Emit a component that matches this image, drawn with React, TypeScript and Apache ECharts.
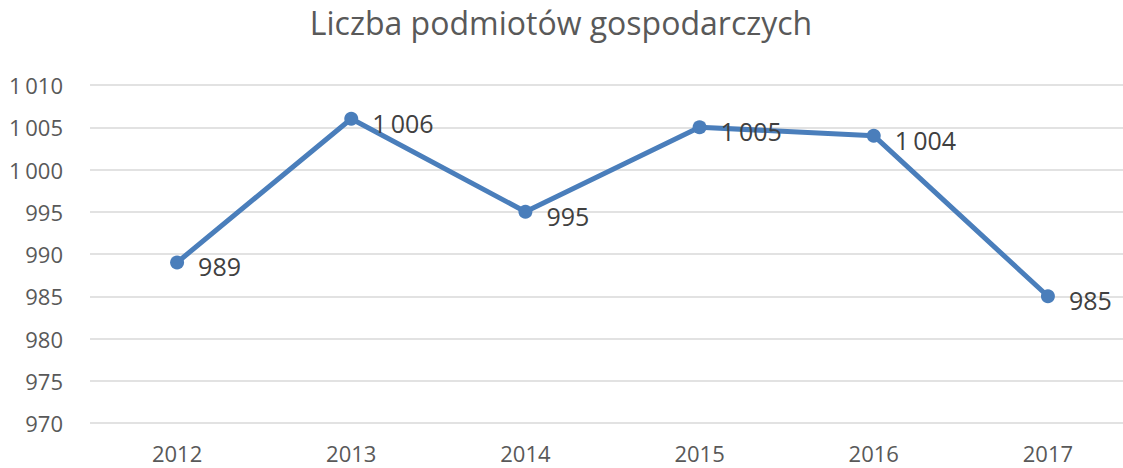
import React, { useEffect, useRef } from "react";
import * as echarts from "echarts";

const titleText = "Liczba podmiotów gospodarczych";
const years = ["2012", "2013", "2014", "2015", "2016", "2017"];
const values = [989, 1006, 995, 1005, 1004, 985];
const yMin = 970;
const yMax = 1010;
const yStep = 5;

const fmt = (v: number) => {
  const s = String(Math.round(v));
  return s.replace(/\B(?=(\d{3})+(?!\d))/g, "\u2009");
};

export default function App() {
  const ref = useRef<HTMLDivElement>(null);
  useEffect(() => {
    if (!ref.current) return;
    const chart = echarts.init(ref.current, null, { renderer: "svg" });
    const font = "'Open Sans', 'Noto Sans', sans-serif";
    chart.setOption({
      animation: false,
      backgroundColor: "#ffffff",
      title: {
        text: titleText,
        left: 561,
        textAlign: "center",
        top: 6,
        padding: 0,
        textStyle: {
          fontFamily: font,
          fontSize: 32,
          fontWeight: "normal",
          color: "#595959",
        },
      },
      grid: { left: 90, right: 5, top: 85, bottom: 45, containLabel: false },
      xAxis: {
        type: "category",
        data: years,
        boundaryGap: true,
        axisLine: { show: false },
        axisTick: { show: false },
        axisLabel: {
          fontFamily: font,
          fontSize: 22,
          lineHeight: 22,
          color: "#595959",
          margin: 19,
        },
      },
      yAxis: {
        type: "value",
        min: yMin,
        max: yMax,
        interval: yStep,
        axisLine: { show: false },
        axisTick: { show: false },
        splitLine: { lineStyle: { color: "#d9d9d9", width: 1.5 } },
        axisLabel: {
          fontFamily: font,
          fontSize: 22,
          color: "#595959",
          margin: 27,
          formatter: (v: number) => fmt(v),
        },
      },
      series: [
        {
          type: "line",
          data: values,
          symbol: "circle",
          symbolSize: 14,
          lineStyle: { color: "#4a7ebb", width: 5 },
          itemStyle: { color: "#4a7ebb" },
          label: {
            show: true,
            position: "right",
            distance: 14,
            offset: [0, 4],
            fontFamily: font,
            fontSize: 25,
            color: "#404040",
            formatter: (p: any) => fmt(p.value),
          },
        },
      ],
    });
    return () => chart.dispose();
  }, []);
  return (
    <div
      style={{
        position: "fixed",
        left: 0,
        top: 0,
        width: 1123,
        height: 468,
        overflow: "hidden",
        background: "#fff",
      }}
    >
      <div ref={ref} style={{ width: 1140, height: 468 }} />
    </div>
  );
}
